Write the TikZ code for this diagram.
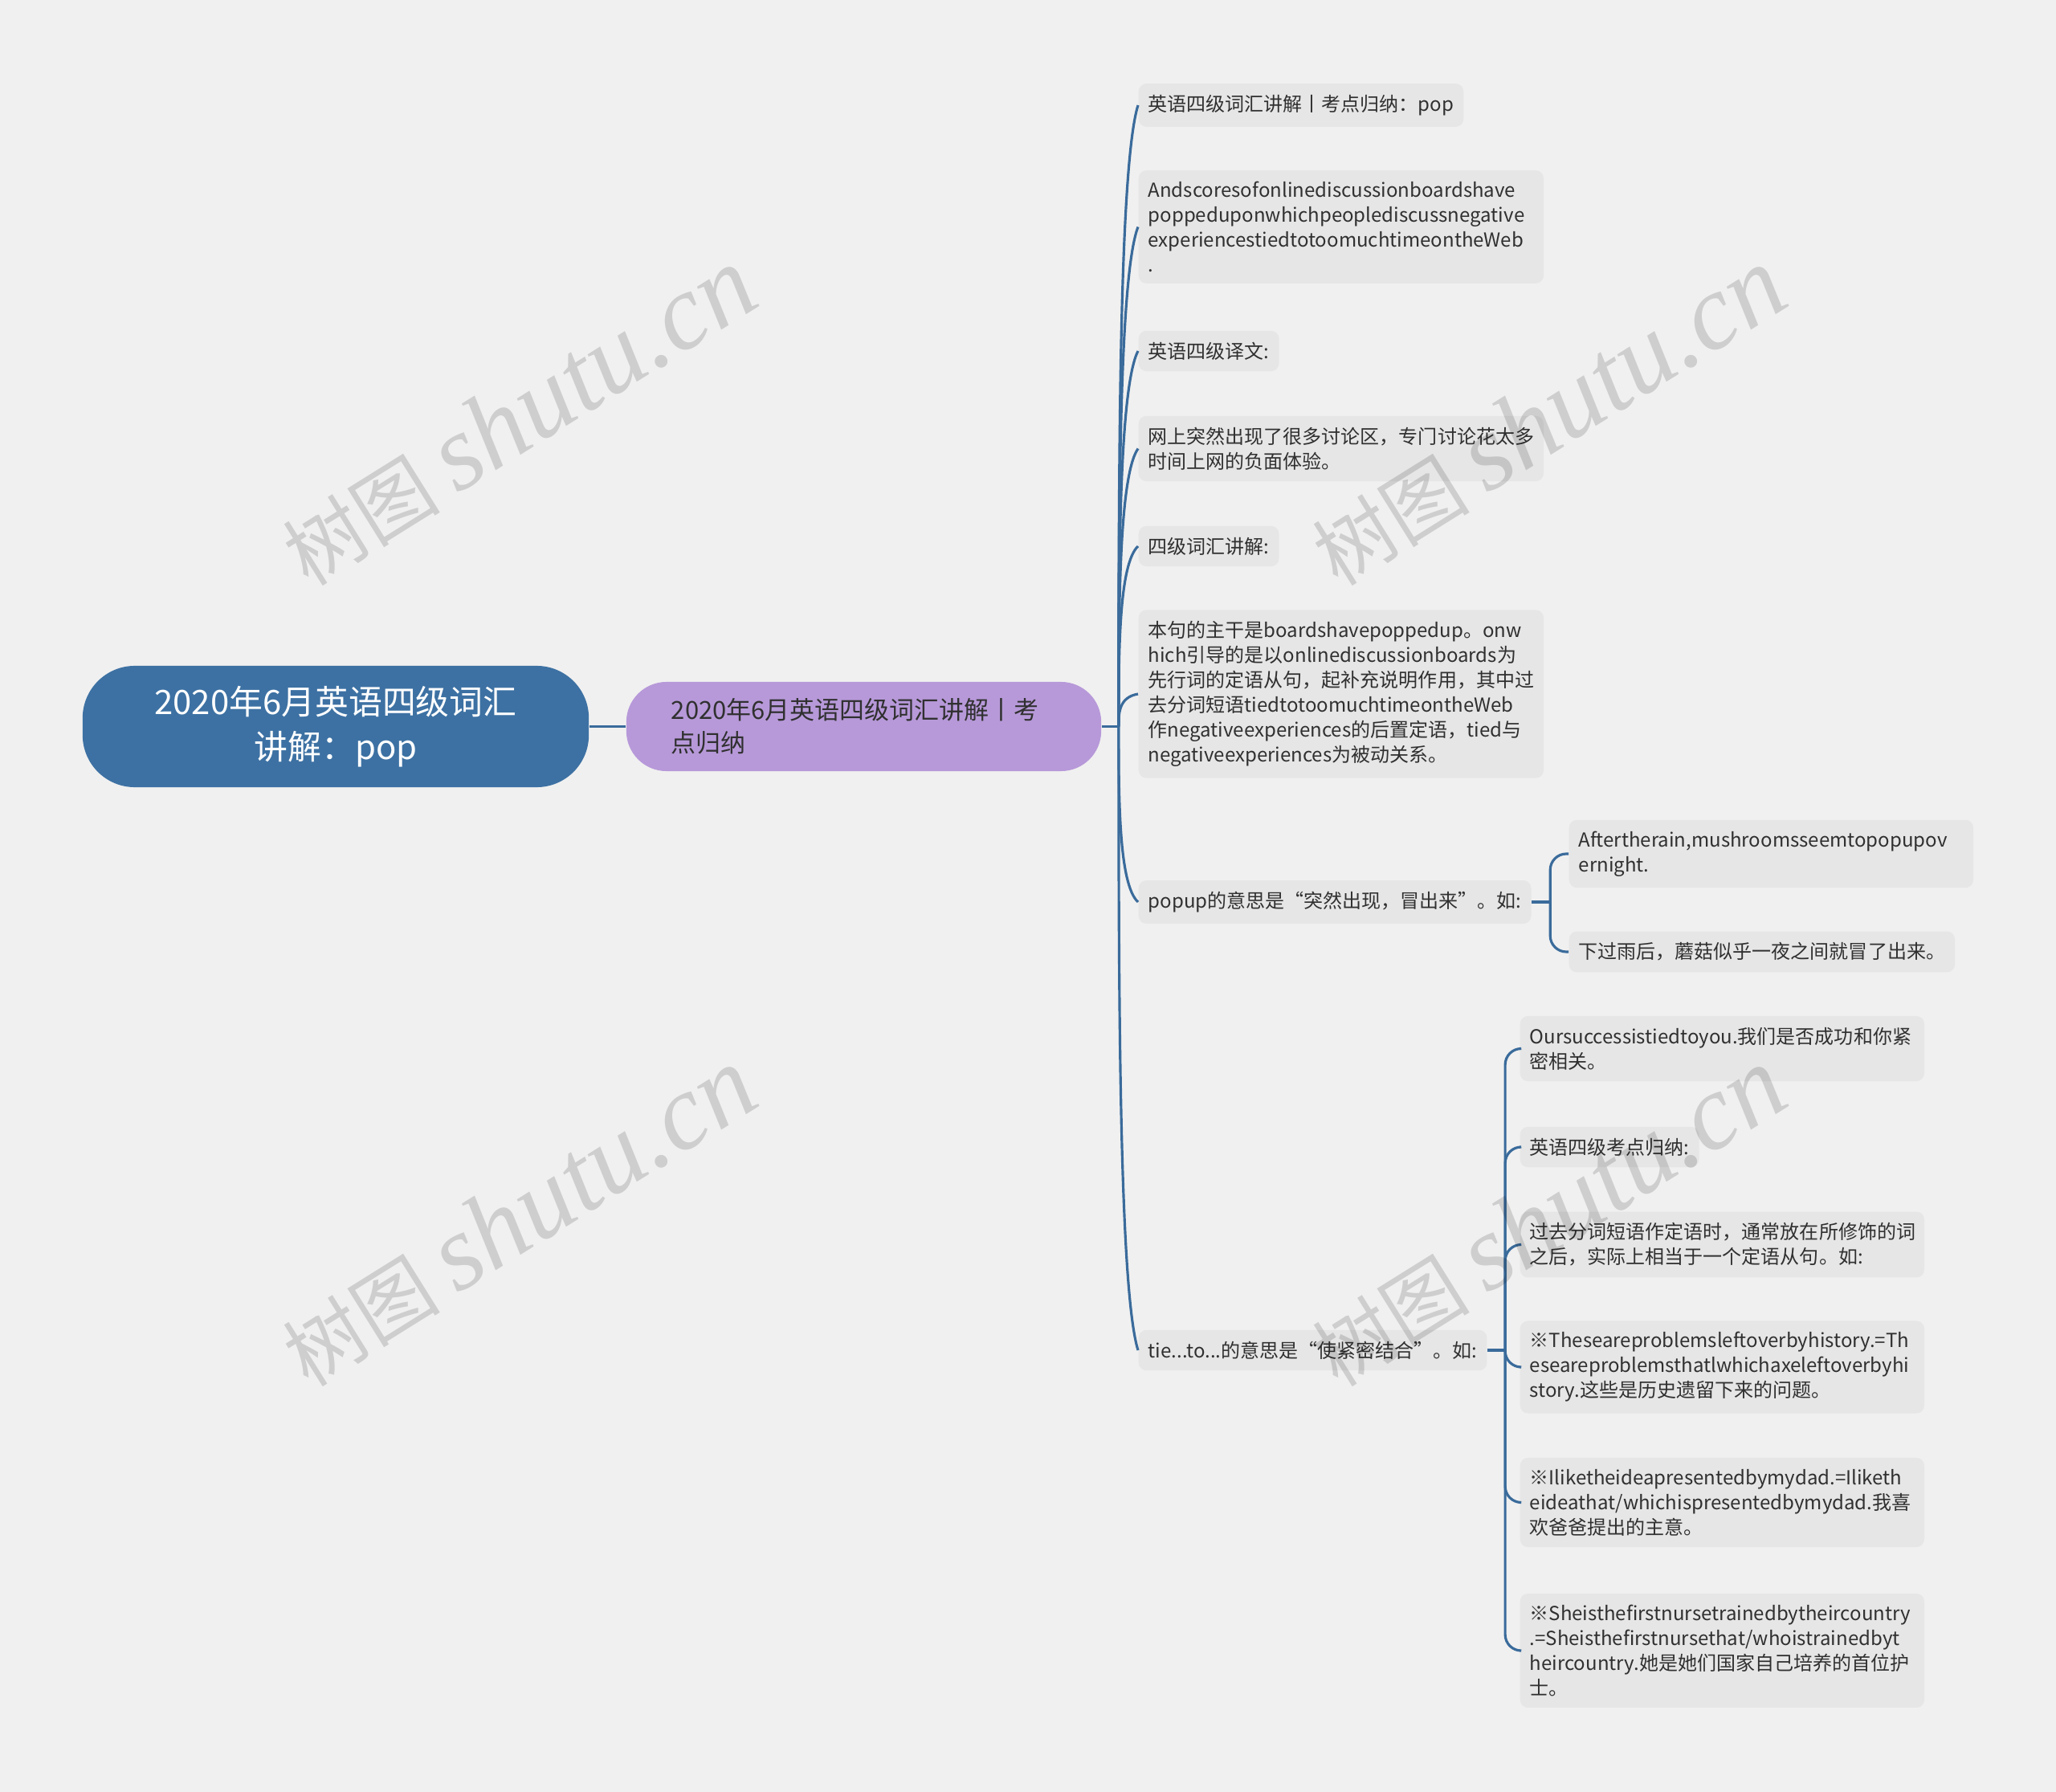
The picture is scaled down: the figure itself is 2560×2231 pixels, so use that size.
\documentclass[tikz,border=0pt]{standalone}
\usepackage{fontspec}
\setmainfont{Noto Sans CJK SC}
\newfontfamily\wmlatin{Liberation Serif}
\usetikzlibrary{calc}
\definecolor{bgcol}{HTML}{F0F0F0}
\definecolor{rootcol}{HTML}{3D71A3}
\definecolor{topiccol}{HTML}{B799D9}
\definecolor{leafcol}{HTML}{E6E6E6}
\definecolor{linecol}{HTML}{3A6B9B}
\definecolor{txtcol}{HTML}{303030}

\begin{document}
\begin{tikzpicture}[x=0.01cm,y=-0.01cm,
    leaf/.style={fill=leafcol,rounded corners=2.8pt,anchor=west,align=left,
      inner xsep=0.12cm,inner ysep=0.14cm,text=txtcol,
      font=\fontsize{6.83pt}{8.82pt}\selectfont},
    wide/.style={text width=4.8cm},
    branch/.style={draw=linecol,line width=0.9pt},
    wmark/.style={rotate=32,text=black,text opacity=0.14,
      font=\fontsize{28pt}{28pt}\selectfont}]
  \fill[bgcol] (0,0) rectangle (2560,2231);

  % central topic and its single main branch
  \node[fill=rootcol,text=white,rounded corners=0.65cm,align=center,
        minimum width=6.3cm,minimum height=1.51cm,
        font=\fontsize{11.9pt}{15.9pt}\selectfont]
    (root) at (418,904.5) {2020年6月英语四级词汇\\讲解：pop};
  \node[fill=topiccol,text=txtcol,rounded corners=0.5cm,align=left,
        text width=4.79cm,inner xsep=0.56cm,minimum height=1.11cm,
        font=\fontsize{8.8pt}{11.7pt}\selectfont]
    (topic) at (1075.5,904.5) {2020年6月英语四级词汇讲解丨考\\点归纳};

  % first level leaves
  \node[leaf] (a1) at (1417,131) {英语四级词汇讲解丨考点归纳：pop};
  \node[leaf,wide] (a2) at (1417,282.5) {Andscoresofonlinediscussionboardshave\\poppeduponwhichpeoplediscussnegative\\experiencestiedtotoomuchtimeontheWeb\\.};
  \node[leaf] (a3) at (1417,437) {英语四级译文:};
  \node[leaf,wide] (a4) at (1417,558.5) {网上突然出现了很多讨论区，专门讨论花太多\\时间上网的负面体验。};
  \node[leaf] (a5) at (1417,680) {四级词汇讲解:};
  \node[leaf,wide] (a6) at (1417,864) {本句的主干是boardshavepoppedup。onw\\hich引导的是以onlinediscussionboards为\\先行词的定语从句，起补充说明作用，其中过\\去分词短语tiedtotoomuchtimeontheWeb\\作negativeexperiences的后置定语，tied与\\negativeexperiences为被动关系。};
  \node[leaf] (a7) at (1417,1123) {popup的意思是“突然出现，冒出来”。如:};
  \node[leaf] (a8) at (1417,1681) {tie...to...的意思是“使紧密结合”。如:};

  % examples for pop up
  \node[leaf,text width=4.79cm] (b1) at (1953,1063) {Aftertherain,mushroomsseemtopopupov\\ernight.};
  \node[leaf] (b2) at (1953,1185) {下过雨后，蘑菇似乎一夜之间就冒了出来。};

  % examples for tie ... to
  \node[leaf,text width=4.79cm] (c1) at (1892,1305.5) {Oursuccessistiedtoyou.我们是否成功和你紧\\密相关。};
  \node[leaf] (c2) at (1892,1428) {英语四级考点归纳:};
  \node[leaf,text width=4.79cm] (c3) at (1892,1549.5) {过去分词短语作定语时，通常放在所修饰的词\\之后，实际上相当于一个定语从句。如:};
  \node[leaf,text width=4.79cm] (c4) at (1892,1702) {※Theseareproblemsleftoverbyhistory.=Th\\eseareproblemsthatlwhichaxeleftoverbyhi\\story.这些是历史遗留下来的问题。};
  \node[leaf,text width=4.79cm] (c5) at (1892,1870.5) {※Iliketheideapresentedbymydad.=Iliketh\\eideathat/whichispresentedbymydad.我喜\\欢爸爸提出的主意。};
  \node[leaf,text width=4.79cm] (c6) at (1892,2055) {※Sheisthefirstnursetrainedbytheircountry\\.=Sheisthefirstnursethat/whoistrainedbyt\\heircountry.她是她们国家自己培养的首位护\\士。};

  % connectors
  \coordinate (j0) at ($(topic.east)+(21,0)$);
  \coordinate (j1) at ($(a7.east)+(23,0)$);
  \coordinate (j2) at ($(a8.east)+(22,0)$);
  \draw[branch] (root.east) -- (topic.west);
  \draw[branch] (topic.east) -- (j0);
  \foreach \i in {1,...,8}
    \draw[branch] (j0) .. controls ($(j0)!0.4!(j0 |- a\i.west)$)
      and ($(j0 |- a\i.west)!0.1!(j0)$) .. (a\i.west);
  \draw[branch] (a7.east) -- (j1);
  \foreach \n in {b1,b2}
    \draw[branch,rounded corners=0.2cm] (j1) |- (\n.west);
  \draw[branch] (a8.east) -- (j2);
  \foreach \n in {c1,c2,c3,c4,c5,c6}
    \draw[branch,rounded corners=0.2cm] (j2) |- (\n.west);

  % watermarks
  \foreach \px/\py in {645/519,1927/519,645/1515,1927/1515}
    \node[wmark] at (\px,\py) {树图 {\wmlatin\itshape\fontsize{38pt}{38pt}\selectfont shutu.cn}};
\end{tikzpicture}
\end{document}
